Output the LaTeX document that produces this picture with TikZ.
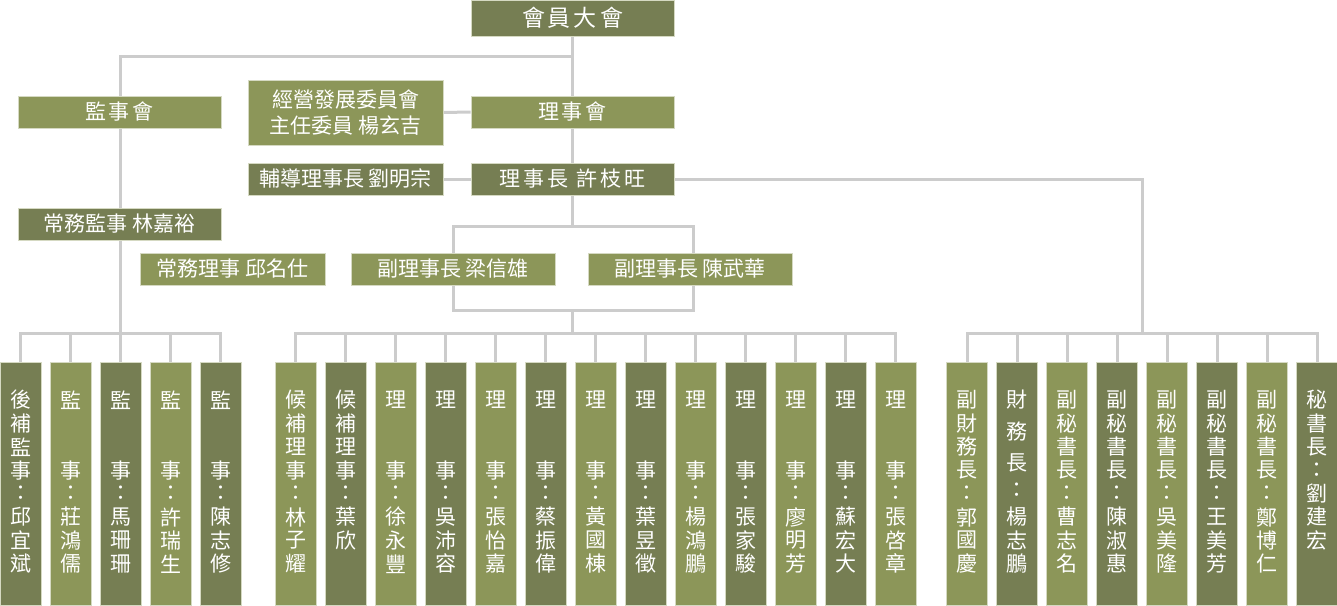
\documentclass[tikz,border=0pt]{standalone}
\usepackage{fontspec}
\setmainfont{Noto Sans CJK TC}
\usetikzlibrary{backgrounds,calc}
\definecolor{dk}{HTML}{767E53}
\definecolor{lt}{HTML}{8C9659}
\definecolor{ln}{HTML}{CCCCCC}
\definecolor{bd}{HTML}{D5D9C2}
\newcommand\lsp{\hspace{3pt}}
\newcommand\vcol[4]{%
  \node[#3,vbox] (#1) at (#2,483.5) {};
  \foreach \rr/\vv [count=\k] in {#4}
    \node[vch] (#1-\k) at (#2,{400+(\rr-1)*23.4}) {\vv};
}
\begin{document}
\begin{tikzpicture}[x=1pt,y=-1pt,
  box/.style={rectangle,inner sep=0pt,draw=bd,line width=0.8pt,text=white,
    font=\fontsize{21pt}{26pt}\selectfont,align=center},
  dkb/.style={box,fill=dk},
  ltb/.style={box,fill=lt},
  hb/.style={minimum width=203pt,minimum height=32pt},
  vbox/.style={minimum width=41pt,minimum height=243pt},
  vch/.style={inner sep=0pt,text=white,font=\fontsize{21pt}{21pt}\selectfont},
  conn/.style={draw=ln,line width=3pt}]
\useasboundingbox (0,0) rectangle (1337,605);

% upper boxes
\node[dkb,minimum width=203pt,minimum height=36pt,font=\fontsize{23pt}{26pt}\selectfont] (top) at (572.5,18) {會\lsp 員\lsp 大\lsp 會};
\node[ltb,hb] (jsh) at (119.5,112) {監\lsp 事\lsp 會};
\node[ltb,minimum width=195pt,minimum height=65pt] (mgmt) at (345.5,112.5) {經營發展委員會\\主任委員 楊玄吉};
\node[ltb,hb] (lsj) at (572.5,112) {理\lsp 事\lsp 會};
\node[dkb,minimum width=195pt,minimum height=32pt] (adv) at (345.5,179) {輔導理事長 劉明宗};
\node[dkb,hb] (lsz) at (572.5,179) {理\lsp 事\lsp 長 \lsp 許\lsp 枝\lsp 旺};
\node[dkb,hb] (csjs) at (119.5,224) {常務監事 林嘉裕};
\node[ltb,minimum width=185pt,minimum height=32pt] (cslsh) at (232.5,269) {常務理事 邱名仕};
\node[ltb,minimum width=204pt,minimum height=32pt] (vp1) at (453,269) {副理事長 梁信雄};
\node[ltb,minimum width=204pt,minimum height=32pt] (vp2) at (690,269) {副理事長 陳武華};

% group A
\vcol{a1}{20.5}{dkb}{1/後,2/補,3/監,4/事,5/：,6/邱,7/宜,8/斌}
\vcol{a2}{70.5}{ltb}{1/監,4/事,5/：,6/莊,7/鴻,8/儒}
\vcol{a3}{120.5}{dkb}{1/監,4/事,5/：,6/馬,7/珊,8/珊}
\vcol{a4}{170.5}{ltb}{1/監,4/事,5/：,6/許,7/瑞,8/生}
\vcol{a5}{220.5}{dkb}{1/監,4/事,5/：,6/陳,7/志,8/修}
% group B
\vcol{b1}{295.5}{ltb}{1/候,2/補,3/理,4/事,5/：,6/林,7/子,8/耀}
\vcol{b2}{345.5}{dkb}{1/候,2/補,3/理,4/事,5/：,6/葉,7/欣}
\vcol{b3}{395.5}{ltb}{1/理,4/事,5/：,6/徐,7/永,8/豐}
\vcol{b4}{445.5}{dkb}{1/理,4/事,5/：,6/吳,7/沛,8/容}
\vcol{b5}{495.5}{ltb}{1/理,4/事,5/：,6/張,7/怡,8/嘉}
\vcol{b6}{545.5}{dkb}{1/理,4/事,5/：,6/蔡,7/振,8/偉}
\vcol{b7}{595.5}{ltb}{1/理,4/事,5/：,6/黃,7/國,8/棟}
\vcol{b8}{645.5}{dkb}{1/理,4/事,5/：,6/葉,7/昱,8/徵}
\vcol{b9}{695.5}{ltb}{1/理,4/事,5/：,6/楊,7/鴻,8/鵬}
\vcol{b10}{745.5}{dkb}{1/理,4/事,5/：,6/張,7/家,8/駿}
\vcol{b11}{795.5}{ltb}{1/理,4/事,5/：,6/廖,7/明,8/芳}
\vcol{b12}{845.5}{dkb}{1/理,4/事,5/：,6/蘇,7/宏,8/大}
\vcol{b13}{895.5}{ltb}{1/理,4/事,5/：,6/張,7/啓,8/章}
% group C
\vcol{c1}{967}{ltb}{1/副,2/財,3/務,4/長,5/：,6/郭,7/國,8/慶}
\vcol{c2}{1017}{dkb}{1/財,2.35/務,3.71/長,4.85/：,6/楊,7/志,8/鵬}
\vcol{c3}{1067}{ltb}{1/副,2/秘,3/書,4/長,5/：,6/曹,7/志,8/名}
\vcol{c4}{1117}{dkb}{1/副,2/秘,3/書,4/長,5/：,6/陳,7/淑,8/惠}
\vcol{c5}{1167}{ltb}{1/副,2/秘,3/書,4/長,5/：,6/吳,7/美,8/隆}
\vcol{c6}{1217}{dkb}{1/副,2/秘,3/書,4/長,5/：,6/王,7/美,8/芳}
\vcol{c7}{1267}{ltb}{1/副,2/秘,3/書,4/長,5/：,6/鄭,7/博,8/仁}
\vcol{c8}{1317}{dkb}{1/秘,2/書,3/長,4/：,5/劉,6/建,7/宏}

% junctions
\coordinate (jT) at (572.5,56);
\coordinate (busA) at (120.5,333);
\coordinate (loopT) at (572.5,226);
\coordinate (loopTL) at (453,226);
\coordinate (loopBR) at (693,310);
\coordinate (loopB) at (572.5,310);
\coordinate (busB) at (572.5,333);
\coordinate (busC) at (1142,333);

\begin{pgfonlayer}{background}
\draw[conn] (top.south) -- (lsj.north);
\draw[conn] (lsj.south) -- (lsz.north);
\draw[conn] (lsz.south) -- (loopT);
\draw[conn] (jT) -| (a3.north);
\draw[conn] (loopTL) rectangle (loopBR);
\draw[conn] (loopB) -- (busB);
\draw[conn] (mgmt.east) -- (lsj.west);
\draw[conn] (adv.east) -- (lsz.west);
\draw[conn] (lsz.east) -| (busC);
% bus A
\draw[conn] (a1.north) |- (a5.north |- busA) -- (a5.north);
\foreach \n in {a2,a4} \draw[conn] (\n.north) -- (\n.north |- busA);
% bus B
\draw[conn] (b1.north) |- (b13.north |- busB) -- (b13.north);
\foreach \n in {b2,b3,b4,b5,b6,b7,b8,b9,b10,b11,b12} \draw[conn] (\n.north) -- (\n.north |- busB);
% bus C
\draw[conn] (c1.north) |- (c8.north |- busC) -- (c8.north);
\foreach \n in {c2,c3,c4,c5,c6,c7} \draw[conn] (\n.north) -- (\n.north |- busC);
\end{pgfonlayer}
\end{tikzpicture}
\end{document}
